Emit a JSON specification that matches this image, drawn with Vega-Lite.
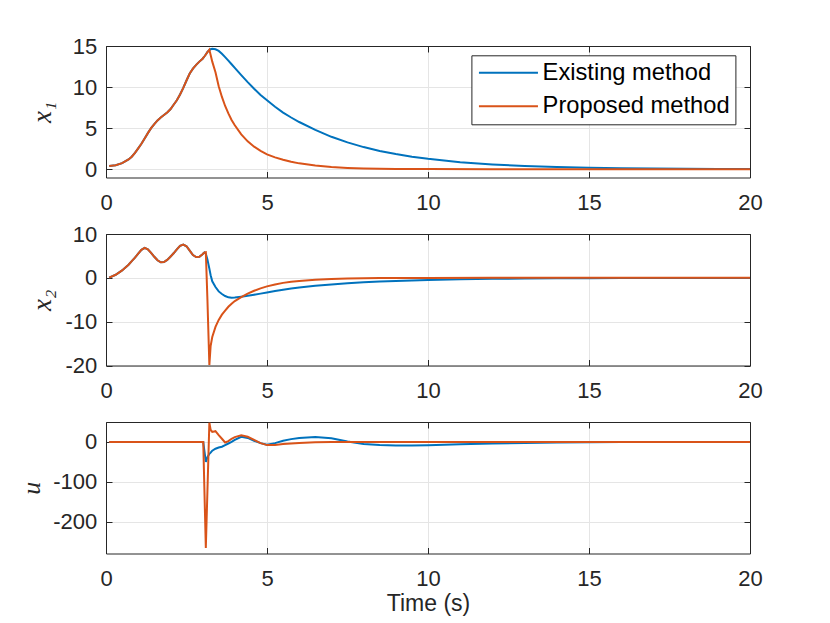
{
  "$schema": "https://vega.github.io/schema/vega-lite/v6.json",
  "background": "white",
  "padding": {"left": 18, "top": 35, "right": 10, "bottom": 5},
  "config": {
    "view": {"stroke": null},
    "font": "Liberation Sans",
    "axis": {
      "domainColor": "#262626", "domainWidth": 1,
      "tickColor": "#262626", "tickWidth": 1, "tickSize": -6,
      "labelFont": "Liberation Sans", "labelFontSize": 22, "labelColor": "#262626",
      "labelFlush": false, "labelOverlap": false,
      "labelExpr": "datum.value < 0 ? '-' + abs(datum.value) : '' + datum.value",
      "gridColor": "#e5e5e5", "gridWidth": 1,
      "titleColor": "#262626", "titleFontWeight": "normal"
    }
  },
  "datasets": {
    "d": [
      {"m":"Existing method","t":0.1,"x1":0.4,"x2":0.05,"u":0},
      {"m":"Existing method","t":0.3,"x1":0.5,"x2":0.7,"u":0},
      {"m":"Existing method","t":0.5,"x1":0.75,"x2":1.7,"u":0},
      {"m":"Existing method","t":0.7,"x1":1.2,"x2":3.0,"u":0},
      {"m":"Existing method","t":0.8,"x1":1.53,"x2":3.8,"u":0},
      {"m":"Existing method","t":0.9,"x1":2.0,"x2":4.6,"u":0},
      {"m":"Existing method","t":1.0,"x1":2.55,"x2":5.5,"u":0},
      {"m":"Existing method","t":1.1,"x1":3.1,"x2":6.4,"u":0},
      {"m":"Existing method","t":1.2,"x1":3.75,"x2":6.85,"u":0},
      {"m":"Existing method","t":1.3,"x1":4.4,"x2":6.5,"u":0},
      {"m":"Existing method","t":1.4,"x1":5.0,"x2":5.7,"u":0},
      {"m":"Existing method","t":1.5,"x1":5.5,"x2":4.8,"u":0},
      {"m":"Existing method","t":1.6,"x1":5.95,"x2":4.0,"u":0},
      {"m":"Existing method","t":1.7,"x1":6.3,"x2":3.55,"u":0},
      {"m":"Existing method","t":1.8,"x1":6.6,"x2":3.6,"u":0},
      {"m":"Existing method","t":1.9,"x1":6.9,"x2":4.1,"u":0},
      {"m":"Existing method","t":2.0,"x1":7.3,"x2":4.8,"u":0},
      {"m":"Existing method","t":2.1,"x1":7.85,"x2":5.6,"u":0},
      {"m":"Existing method","t":2.2,"x1":8.4,"x2":6.5,"u":0},
      {"m":"Existing method","t":2.3,"x1":9.1,"x2":7.3,"u":0},
      {"m":"Existing method","t":2.4,"x1":9.9,"x2":7.6,"u":0},
      {"m":"Existing method","t":2.5,"x1":10.8,"x2":7.2,"u":0},
      {"m":"Existing method","t":2.6,"x1":11.65,"x2":6.2,"u":0},
      {"m":"Existing method","t":2.7,"x1":12.25,"x2":5.2,"u":0},
      {"m":"Existing method","t":2.8,"x1":12.7,"x2":4.75,"u":0},
      {"m":"Existing method","t":2.9,"x1":13.1,"x2":4.8,"u":0},
      {"m":"Existing method","t":3.0,"x1":13.45,"x2":5.4,"u":0},
      {"m":"Existing method","t":3.02,"x1":13.55,"x2":5.55,"u":0},
      {"m":"Existing method","t":3.06,"x1":13.75,"x2":5.8,"u":-25},
      {"m":"Existing method","t":3.1,"x1":13.97,"x2":5.5,"u":-50},
      {"m":"Existing method","t":3.15,"x1":14.27,"x2":4.2,"u":-38},
      {"m":"Existing method","t":3.21,"x1":14.5,"x2":2.1,"u":-30},
      {"m":"Existing method","t":3.25,"x1":14.6,"x2":0.6,"u":-27},
      {"m":"Existing method","t":3.3,"x1":14.65,"x2":-0.8,"u":-22},
      {"m":"Existing method","t":3.4,"x1":14.6,"x2":-2.1,"u":-17},
      {"m":"Existing method","t":3.5,"x1":14.4,"x2":-3.1,"u":-14},
      {"m":"Existing method","t":3.6,"x1":14.05,"x2":-3.7,"u":-12},
      {"m":"Existing method","t":3.7,"x1":13.65,"x2":-4.15,"u":-8},
      {"m":"Existing method","t":3.8,"x1":13.22,"x2":-4.45,"u":-4},
      {"m":"Existing method","t":3.9,"x1":12.78,"x2":-4.55,"u":0},
      {"m":"Existing method","t":4.0,"x1":12.33,"x2":-4.5,"u":5},
      {"m":"Existing method","t":4.2,"x1":11.45,"x2":-4.3,"u":13},
      {"m":"Existing method","t":4.4,"x1":10.6,"x2":-4.1,"u":10},
      {"m":"Existing method","t":4.6,"x1":9.8,"x2":-3.85,"u":3},
      {"m":"Existing method","t":4.8,"x1":9.05,"x2":-3.6,"u":-3},
      {"m":"Existing method","t":5.0,"x1":8.4,"x2":-3.35,"u":-7},
      {"m":"Existing method","t":5.25,"x1":7.6,"x2":-3.0,"u":-3},
      {"m":"Existing method","t":5.5,"x1":6.9,"x2":-2.7,"u":3},
      {"m":"Existing method","t":5.75,"x1":6.3,"x2":-2.45,"u":7},
      {"m":"Existing method","t":6.0,"x1":5.75,"x2":-2.2,"u":10},
      {"m":"Existing method","t":6.5,"x1":4.8,"x2":-1.8,"u":12.5},
      {"m":"Existing method","t":7.0,"x1":3.95,"x2":-1.5,"u":9},
      {"m":"Existing method","t":7.5,"x1":3.27,"x2":-1.24,"u":1},
      {"m":"Existing method","t":8.0,"x1":2.7,"x2":-1.03,"u":-5},
      {"m":"Existing method","t":8.5,"x1":2.23,"x2":-0.85,"u":-8},
      {"m":"Existing method","t":9.0,"x1":1.85,"x2":-0.7,"u":-9},
      {"m":"Existing method","t":9.5,"x1":1.53,"x2":-0.58,"u":-9},
      {"m":"Existing method","t":10,"x1":1.27,"x2":-0.48,"u":-8.5},
      {"m":"Existing method","t":11,"x1":0.86,"x2":-0.33,"u":-6},
      {"m":"Existing method","t":12,"x1":0.59,"x2":-0.22,"u":-4},
      {"m":"Existing method","t":13,"x1":0.4,"x2":-0.15,"u":-2.5},
      {"m":"Existing method","t":14,"x1":0.27,"x2":-0.1,"u":-1.5},
      {"m":"Existing method","t":15,"x1":0.19,"x2":-0.07,"u":-1},
      {"m":"Existing method","t":16,"x1":0.13,"x2":-0.05,"u":-0.5},
      {"m":"Existing method","t":17,"x1":0.09,"x2":-0.03,"u":-0.3},
      {"m":"Existing method","t":18,"x1":0.06,"x2":-0.02,"u":-0.2},
      {"m":"Existing method","t":19,"x1":0.04,"x2":-0.015,"u":-0.1},
      {"m":"Existing method","t":20,"x1":0.03,"x2":-0.01,"u":0},
      {"m":"Proposed method","t":0.1,"x1":0.4,"x2":0.05,"u":0},
      {"m":"Proposed method","t":0.3,"x1":0.5,"x2":0.7,"u":0},
      {"m":"Proposed method","t":0.5,"x1":0.75,"x2":1.7,"u":0},
      {"m":"Proposed method","t":0.7,"x1":1.2,"x2":3.0,"u":0},
      {"m":"Proposed method","t":0.8,"x1":1.53,"x2":3.8,"u":0},
      {"m":"Proposed method","t":0.9,"x1":2.0,"x2":4.6,"u":0},
      {"m":"Proposed method","t":1.0,"x1":2.55,"x2":5.5,"u":0},
      {"m":"Proposed method","t":1.1,"x1":3.1,"x2":6.4,"u":0},
      {"m":"Proposed method","t":1.2,"x1":3.75,"x2":6.85,"u":0},
      {"m":"Proposed method","t":1.3,"x1":4.4,"x2":6.5,"u":0},
      {"m":"Proposed method","t":1.4,"x1":5.0,"x2":5.7,"u":0},
      {"m":"Proposed method","t":1.5,"x1":5.5,"x2":4.8,"u":0},
      {"m":"Proposed method","t":1.6,"x1":5.95,"x2":4.0,"u":0},
      {"m":"Proposed method","t":1.7,"x1":6.3,"x2":3.55,"u":0},
      {"m":"Proposed method","t":1.8,"x1":6.6,"x2":3.6,"u":0},
      {"m":"Proposed method","t":1.9,"x1":6.9,"x2":4.1,"u":0},
      {"m":"Proposed method","t":2.0,"x1":7.3,"x2":4.8,"u":0},
      {"m":"Proposed method","t":2.1,"x1":7.85,"x2":5.6,"u":0},
      {"m":"Proposed method","t":2.2,"x1":8.4,"x2":6.5,"u":0},
      {"m":"Proposed method","t":2.3,"x1":9.1,"x2":7.3,"u":0},
      {"m":"Proposed method","t":2.4,"x1":9.9,"x2":7.6,"u":0},
      {"m":"Proposed method","t":2.5,"x1":10.8,"x2":7.2,"u":0},
      {"m":"Proposed method","t":2.6,"x1":11.65,"x2":6.2,"u":0},
      {"m":"Proposed method","t":2.7,"x1":12.25,"x2":5.2,"u":0},
      {"m":"Proposed method","t":2.8,"x1":12.7,"x2":4.75,"u":0},
      {"m":"Proposed method","t":2.9,"x1":13.1,"x2":4.8,"u":0},
      {"m":"Proposed method","t":3.0,"x1":13.45,"x2":5.4,"u":0},
      {"m":"Proposed method","t":3.02,"x1":13.55,"x2":5.55,"u":0},
      {"m":"Proposed method","t":3.06,"x1":13.75,"x2":5.8,"u":-133},
      {"m":"Proposed method","t":3.1,"x1":13.97,"x2":5.85,"u":-266},
      {"m":"Proposed method","t":3.15,"x1":14.25,"x2":-5,"u":-123},
      {"m":"Proposed method","t":3.21,"x1":14.55,"x2":-19.9,"u":48},
      {"m":"Proposed method","t":3.25,"x1":13.9,"x2":-15.5,"u":30},
      {"m":"Proposed method","t":3.3,"x1":13.1,"x2":-13.5,"u":25},
      {"m":"Proposed method","t":3.4,"x1":11.8,"x2":-11.2,"u":27},
      {"m":"Proposed method","t":3.5,"x1":10.1,"x2":-9.6,"u":17},
      {"m":"Proposed method","t":3.6,"x1":8.8,"x2":-8.4,"u":8},
      {"m":"Proposed method","t":3.7,"x1":7.7,"x2":-7.5,"u":-1.5},
      {"m":"Proposed method","t":3.8,"x1":6.8,"x2":-6.6,"u":2},
      {"m":"Proposed method","t":3.9,"x1":6.0,"x2":-5.9,"u":8},
      {"m":"Proposed method","t":4.0,"x1":5.35,"x2":-5.3,"u":12},
      {"m":"Proposed method","t":4.2,"x1":4.25,"x2":-4.4,"u":16.5},
      {"m":"Proposed method","t":4.4,"x1":3.4,"x2":-3.6,"u":13},
      {"m":"Proposed method","t":4.6,"x1":2.75,"x2":-2.95,"u":5},
      {"m":"Proposed method","t":4.8,"x1":2.25,"x2":-2.4,"u":-3},
      {"m":"Proposed method","t":5.0,"x1":1.82,"x2":-1.95,"u":-8},
      {"m":"Proposed method","t":5.25,"x1":1.45,"x2":-1.5,"u":-7.5},
      {"m":"Proposed method","t":5.5,"x1":1.15,"x2":-1.15,"u":-5.5},
      {"m":"Proposed method","t":5.75,"x1":0.92,"x2":-0.9,"u":-4},
      {"m":"Proposed method","t":6.0,"x1":0.72,"x2":-0.7,"u":-2.5},
      {"m":"Proposed method","t":6.5,"x1":0.45,"x2":-0.42,"u":-1},
      {"m":"Proposed method","t":7.0,"x1":0.28,"x2":-0.25,"u":-0.3},
      {"m":"Proposed method","t":7.5,"x1":0.17,"x2":-0.15,"u":0},
      {"m":"Proposed method","t":8.0,"x1":0.1,"x2":-0.09,"u":0},
      {"m":"Proposed method","t":8.5,"x1":0.06,"x2":-0.05,"u":0},
      {"m":"Proposed method","t":9.0,"x1":0.04,"x2":-0.03,"u":0},
      {"m":"Proposed method","t":9.5,"x1":0.03,"x2":-0.02,"u":0},
      {"m":"Proposed method","t":10,"x1":0.02,"x2":-0.01,"u":0},
      {"m":"Proposed method","t":12,"x1":0.01,"x2":0,"u":0},
      {"m":"Proposed method","t":14,"x1":0,"x2":0,"u":0},
      {"m":"Proposed method","t":16,"x1":0,"x2":0,"u":0},
      {"m":"Proposed method","t":18,"x1":0,"x2":0,"u":0},
      {"m":"Proposed method","t":20,"x1":0,"x2":0,"u":0}
    ]
  },
  "data": {"name": "d"},
  "spacing": 56,
  "bounds": "flush",
  "resolve": {"legend": {"color": "independent"}},
  "vconcat": [
    {
      "width": 644, "height": 131.5,
      "layer": [
        {
          "mark": {"type": "line", "strokeWidth": 2, "clip": true},
          "encoding": {
            "x": {"field": "t", "type": "quantitative", "scale": {"domain": [0, 20], "nice": false},
                  "axis": {"orient": "bottom", "values": [0, 5, 10, 15, 20], "labelPadding": 20.5, "grid": true, "title": null}},
            "y": {"field": "x1", "type": "quantitative", "scale": {"domain": [-1, 15], "nice": false, "zero": false},
                  "axis": {"orient": "left", "values": [0, 5, 10, 15], "labelPadding": 15.3, "grid": true,
                           "title": "x₁", "titleFont": "Liberation Serif", "titleFontStyle": "italic", "titleFontSize": 27,
                           "titleAngle": 270, "titleX": -56, "titleY": 65.75, "titleAlign": "center", "titleBaseline": "alphabetic"}},
            "color": {"field": "m", "type": "nominal",
                      "scale": {"domain": ["Existing method", "Proposed method"], "range": ["#0072BD", "#D95319"]},
                      "legend": {"orient": "none", "legendX": 365.4, "legendY": 9.3, "title": null,
                                 "strokeColor": "#262626", "fillColor": "white", "padding": 5.5,
                                 "labelFont": "Liberation Sans", "labelFontSize": 23.7, "labelColor": "#000000", "labelLimit": 0,
                                 "symbolType": "M-3,0H3", "symbolSize": 387, "symbolStrokeWidth": 2, "symbolOffset": 19.7,
                                 "labelOffset": 22.3, "rowPadding": 8.5}}
          }
        },
        {
          "mark": {"type": "point", "opacity": 0},
          "encoding": {
            "x": {"field": "t", "type": "quantitative", "scale": {"domain": [0, 20], "nice": false},
                  "axis": {"orient": "top", "values": [0, 5, 10, 15, 20], "labels": false, "grid": false, "title": null}},
            "y": {"field": "x1", "type": "quantitative", "scale": {"domain": [-1, 15], "nice": false, "zero": false},
                  "axis": {"orient": "right", "values": [0, 5, 10, 15], "labels": false, "grid": false, "title": null}}
          }
        }
      ],
      "resolve": {"axis": {"x": "independent", "y": "independent"}}
    },
    {
      "width": 644, "height": 131.5,
      "layer": [
        {
          "mark": {"type": "line", "strokeWidth": 2, "clip": true},
          "encoding": {
            "x": {"field": "t", "type": "quantitative", "scale": {"domain": [0, 20], "nice": false},
                  "axis": {"orient": "bottom", "values": [0, 5, 10, 15, 20], "labelPadding": 20.5, "grid": true, "title": null}},
            "y": {"field": "x2", "type": "quantitative", "scale": {"domain": [-20, 10], "nice": false, "zero": false},
                  "axis": {"orient": "left", "values": [-20, -10, 0, 10], "labelPadding": 15.3, "grid": true,
                           "title": "x₂", "titleFont": "Liberation Serif", "titleFontStyle": "italic", "titleFontSize": 27,
                           "titleAngle": 270, "titleX": -56, "titleY": 65.75, "titleAlign": "center", "titleBaseline": "alphabetic"}},
            "color": {"field": "m", "type": "nominal",
                      "scale": {"domain": ["Existing method", "Proposed method"], "range": ["#0072BD", "#D95319"]},
                      "legend": null}
          }
        },
        {
          "mark": {"type": "point", "opacity": 0},
          "encoding": {
            "x": {"field": "t", "type": "quantitative", "scale": {"domain": [0, 20], "nice": false},
                  "axis": {"orient": "top", "values": [0, 5, 10, 15, 20], "labels": false, "grid": false, "title": null}},
            "y": {"field": "x2", "type": "quantitative", "scale": {"domain": [-20, 10], "nice": false, "zero": false},
                  "axis": {"orient": "right", "values": [-20, -10, 0, 10], "labels": false, "grid": false, "title": null}}
          }
        }
      ],
      "resolve": {"axis": {"x": "independent", "y": "independent"}}
    },
    {
      "width": 644, "height": 131.5,
      "layer": [
        {
          "mark": {"type": "line", "strokeWidth": 2, "clip": true},
          "encoding": {
            "x": {"field": "t", "type": "quantitative", "scale": {"domain": [0, 20], "nice": false},
                  "axis": {"orient": "bottom", "values": [0, 5, 10, 15, 20], "labelPadding": 20.5, "grid": true,
                           "title": "Time (s)", "titleFont": "Liberation Sans", "titleFontSize": 23, "titlePadding": 3}},
            "y": {"field": "u", "type": "quantitative", "scale": {"domain": [-280, 50], "nice": false, "zero": false},
                  "axis": {"orient": "left", "values": [-200, -100, 0], "labelPadding": 15.3, "grid": true,
                           "title": "u", "titleFont": "Liberation Serif", "titleFontStyle": "italic", "titleFontSize": 26,
                           "titleAngle": 270, "titleX": -67, "titleY": 65.75, "titleAlign": "center", "titleBaseline": "alphabetic"}},
            "color": {"field": "m", "type": "nominal",
                      "scale": {"domain": ["Existing method", "Proposed method"], "range": ["#0072BD", "#D95319"]},
                      "legend": null}
          }
        },
        {
          "mark": {"type": "point", "opacity": 0},
          "encoding": {
            "x": {"field": "t", "type": "quantitative", "scale": {"domain": [0, 20], "nice": false},
                  "axis": {"orient": "top", "values": [0, 5, 10, 15, 20], "labels": false, "grid": false, "title": null}},
            "y": {"field": "u", "type": "quantitative", "scale": {"domain": [-280, 50], "nice": false, "zero": false},
                  "axis": {"orient": "right", "values": [-200, -100, 0], "labels": false, "grid": false, "title": null}}
          }
        }
      ],
      "resolve": {"axis": {"x": "independent", "y": "independent"}}
    }
  ]
}
